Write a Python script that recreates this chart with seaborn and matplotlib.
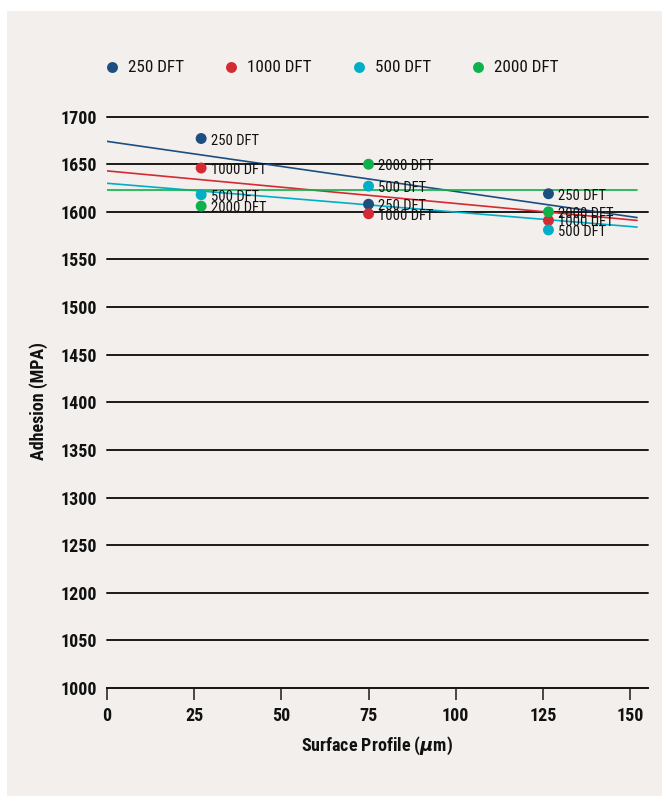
import numpy as np
import pandas as pd
import matplotlib
matplotlib.use("Agg")
import matplotlib.pyplot as plt
from matplotlib import font_manager as fm
from matplotlib.patches import Rectangle
import seaborn as sns

# Surface profile (µm) at which adhesion was measured
profile = [27, 75, 126.6]

# Adhesion (MPA) for each dry film thickness
adh_250 = [1677, 1608, 1619]
adh_1000 = [1646, 1598, 1591]
adh_500 = [1618, 1627, 1581]
adh_2000 = [1606, 1650, 1600]

# Trend lines, given by their values at the two ends of the profile range
trend_x = [0, 152]
trend_250 = [1674, 1594]
trend_1000 = [1643, 1591]
trend_500 = [1630, 1584]
trend_2000 = [1623, 1623]

series_names = ["250 DFT", "1000 DFT", "500 DFT", "2000 DFT"]
series_colors = ["#1c4f80", "#d52a33", "#00aec6", "#10b14c"]

# Gridline positions and the labels printed on them
y_tick_pos = [1100, 1150, 1200, 1250, 1300, 1350, 1400, 1450, 1500, 1550, 1600, 1650, 1700]
y_tick_labels = ["1000", "1050", "1200", "1250", "1300", "1350", "1400",
                 "1450", "1500", "1550", "1600", "1650", "1700"]
x_ticks = [0, 25, 50, 75, 100, 125, 150]

df = pd.DataFrame({
    "profile": profile * 4,
    "adhesion": adh_250 + adh_1000 + adh_500 + adh_2000,
    "dft": sum([[n] * len(profile) for n in series_names], []),
})
trend_df = pd.DataFrame({
    "profile": trend_x * 4,
    "adhesion": trend_250 + trend_1000 + trend_500 + trend_2000,
    "dft": sum([[n] * len(trend_x) for n in series_names], []),
})


def narrow_font():
    """Pick a narrow sans family if one is installed."""
    entries = fm.fontManager.ttflist
    names = {f.name for f in entries}
    for fam in ["Liberation Sans Narrow", "DejaVu Sans Condensed", "Roboto Condensed",
                "Noto Sans Condensed", "Open Sans Condensed", "Arial Narrow"]:
        if fam in names:
            return fam, "normal"
    for fam in ["DejaVu Sans", "Noto Sans", "Roboto", "Open Sans", "Liberation Sans"]:
        for f in entries:
            if f.name == fam and str(f.stretch) in ("condensed", "semi-condensed",
                                                   "extra-condensed"):
                return fam, "condensed"
    return "DejaVu Sans", "normal"


sns.set_theme(style="white")
FAMILY, STRETCH = narrow_font()
plt.rcParams["font.family"] = [FAMILY, "DejaVu Sans"]
plt.rcParams["font.stretch"] = STRETCH
plt.rcParams["mathtext.fontset"] = "custom"
plt.rcParams["mathtext.it"] = "DejaVu Sans:italic:bold"
plt.rcParams["mathtext.rm"] = "DejaVu Sans:bold"

BG = "#f2efec"
INK = "#111111"
W, H = 662, 796
fig = plt.figure(figsize=(W / 100, H / 100), dpi=100)
fig.patch.set_facecolor("white")
fig.patches.append(Rectangle((7 / W, 0), 1, 1 - 11 / H, transform=fig.transFigure,
                             facecolor=BG, edgecolor="none", zorder=-10))

ax = fig.add_axes([107 / W, 108 / H, 540.5 / W, 573.3 / H])
ax.set_facecolor(BG)
palette = dict(zip(series_names, series_colors))

sns.lineplot(data=trend_df, x="profile", y="adhesion", hue="dft", hue_order=series_names,
             palette=palette, lw=1.2, ax=ax, zorder=3, legend=False)
sns.scatterplot(data=df, x="profile", y="adhesion", hue="dft", hue_order=series_names,
                palette=palette, s=62, edgecolor="none", ax=ax, zorder=4)

# Point labels
for _, r in df.iterrows():
    ax.annotate(r["dft"], (r["profile"], r["adhesion"]), xytext=(7, -1.5),
                textcoords="offset points", va="center", ha="left",
                fontsize=10.5, color=INK, zorder=5)

ax.set_xlim(0, 155)
ax.set_ylim(1100, 1702)
ax.set_xticks(x_ticks)
ax.set_yticks(y_tick_pos)
ax.set_yticklabels(y_tick_labels)
for y in y_tick_pos:
    ax.axhline(y, color="#1a1a1a", lw=1.4, zorder=2, clip_on=False)

for s in ["top", "right", "left"]:
    ax.spines[s].set_visible(False)
ax.spines["bottom"].set_color("#1a1a1a")
ax.spines["bottom"].set_linewidth(1.4)

ax.tick_params(axis="x", which="major", direction="out", length=8.5, width=1.1,
               color="#1a1a1a", pad=5, labelsize=13, bottom=True)
ax.tick_params(axis="y", length=0, pad=7, labelsize=13)
for lab in ax.get_xticklabels() + ax.get_yticklabels():
    lab.set_fontweight("bold")
    lab.set_color(INK)

ax.set_xlabel("Surface Profile ($\\mu$m)", fontsize=13, fontweight="bold",
              color=INK, labelpad=7)
ax.set_ylabel("Adhesion (MPA)", fontsize=13, fontweight="bold", color=INK,
              labelpad=9)

handles, labels = ax.get_legend_handles_labels()
ax.legend(handles, labels, ncol=4, frameon=False, loc="center left",
          bbox_to_anchor=(105 / W, 1 - 68 / H), bbox_transform=fig.transFigure,
          borderpad=0, borderaxespad=0, handlelength=0.8, handletextpad=0.55,
          columnspacing=2.35, fontsize=12.3, markerscale=1.0, labelcolor=INK)

fig.savefig("out.png", dpi=100, facecolor=fig.get_facecolor())
